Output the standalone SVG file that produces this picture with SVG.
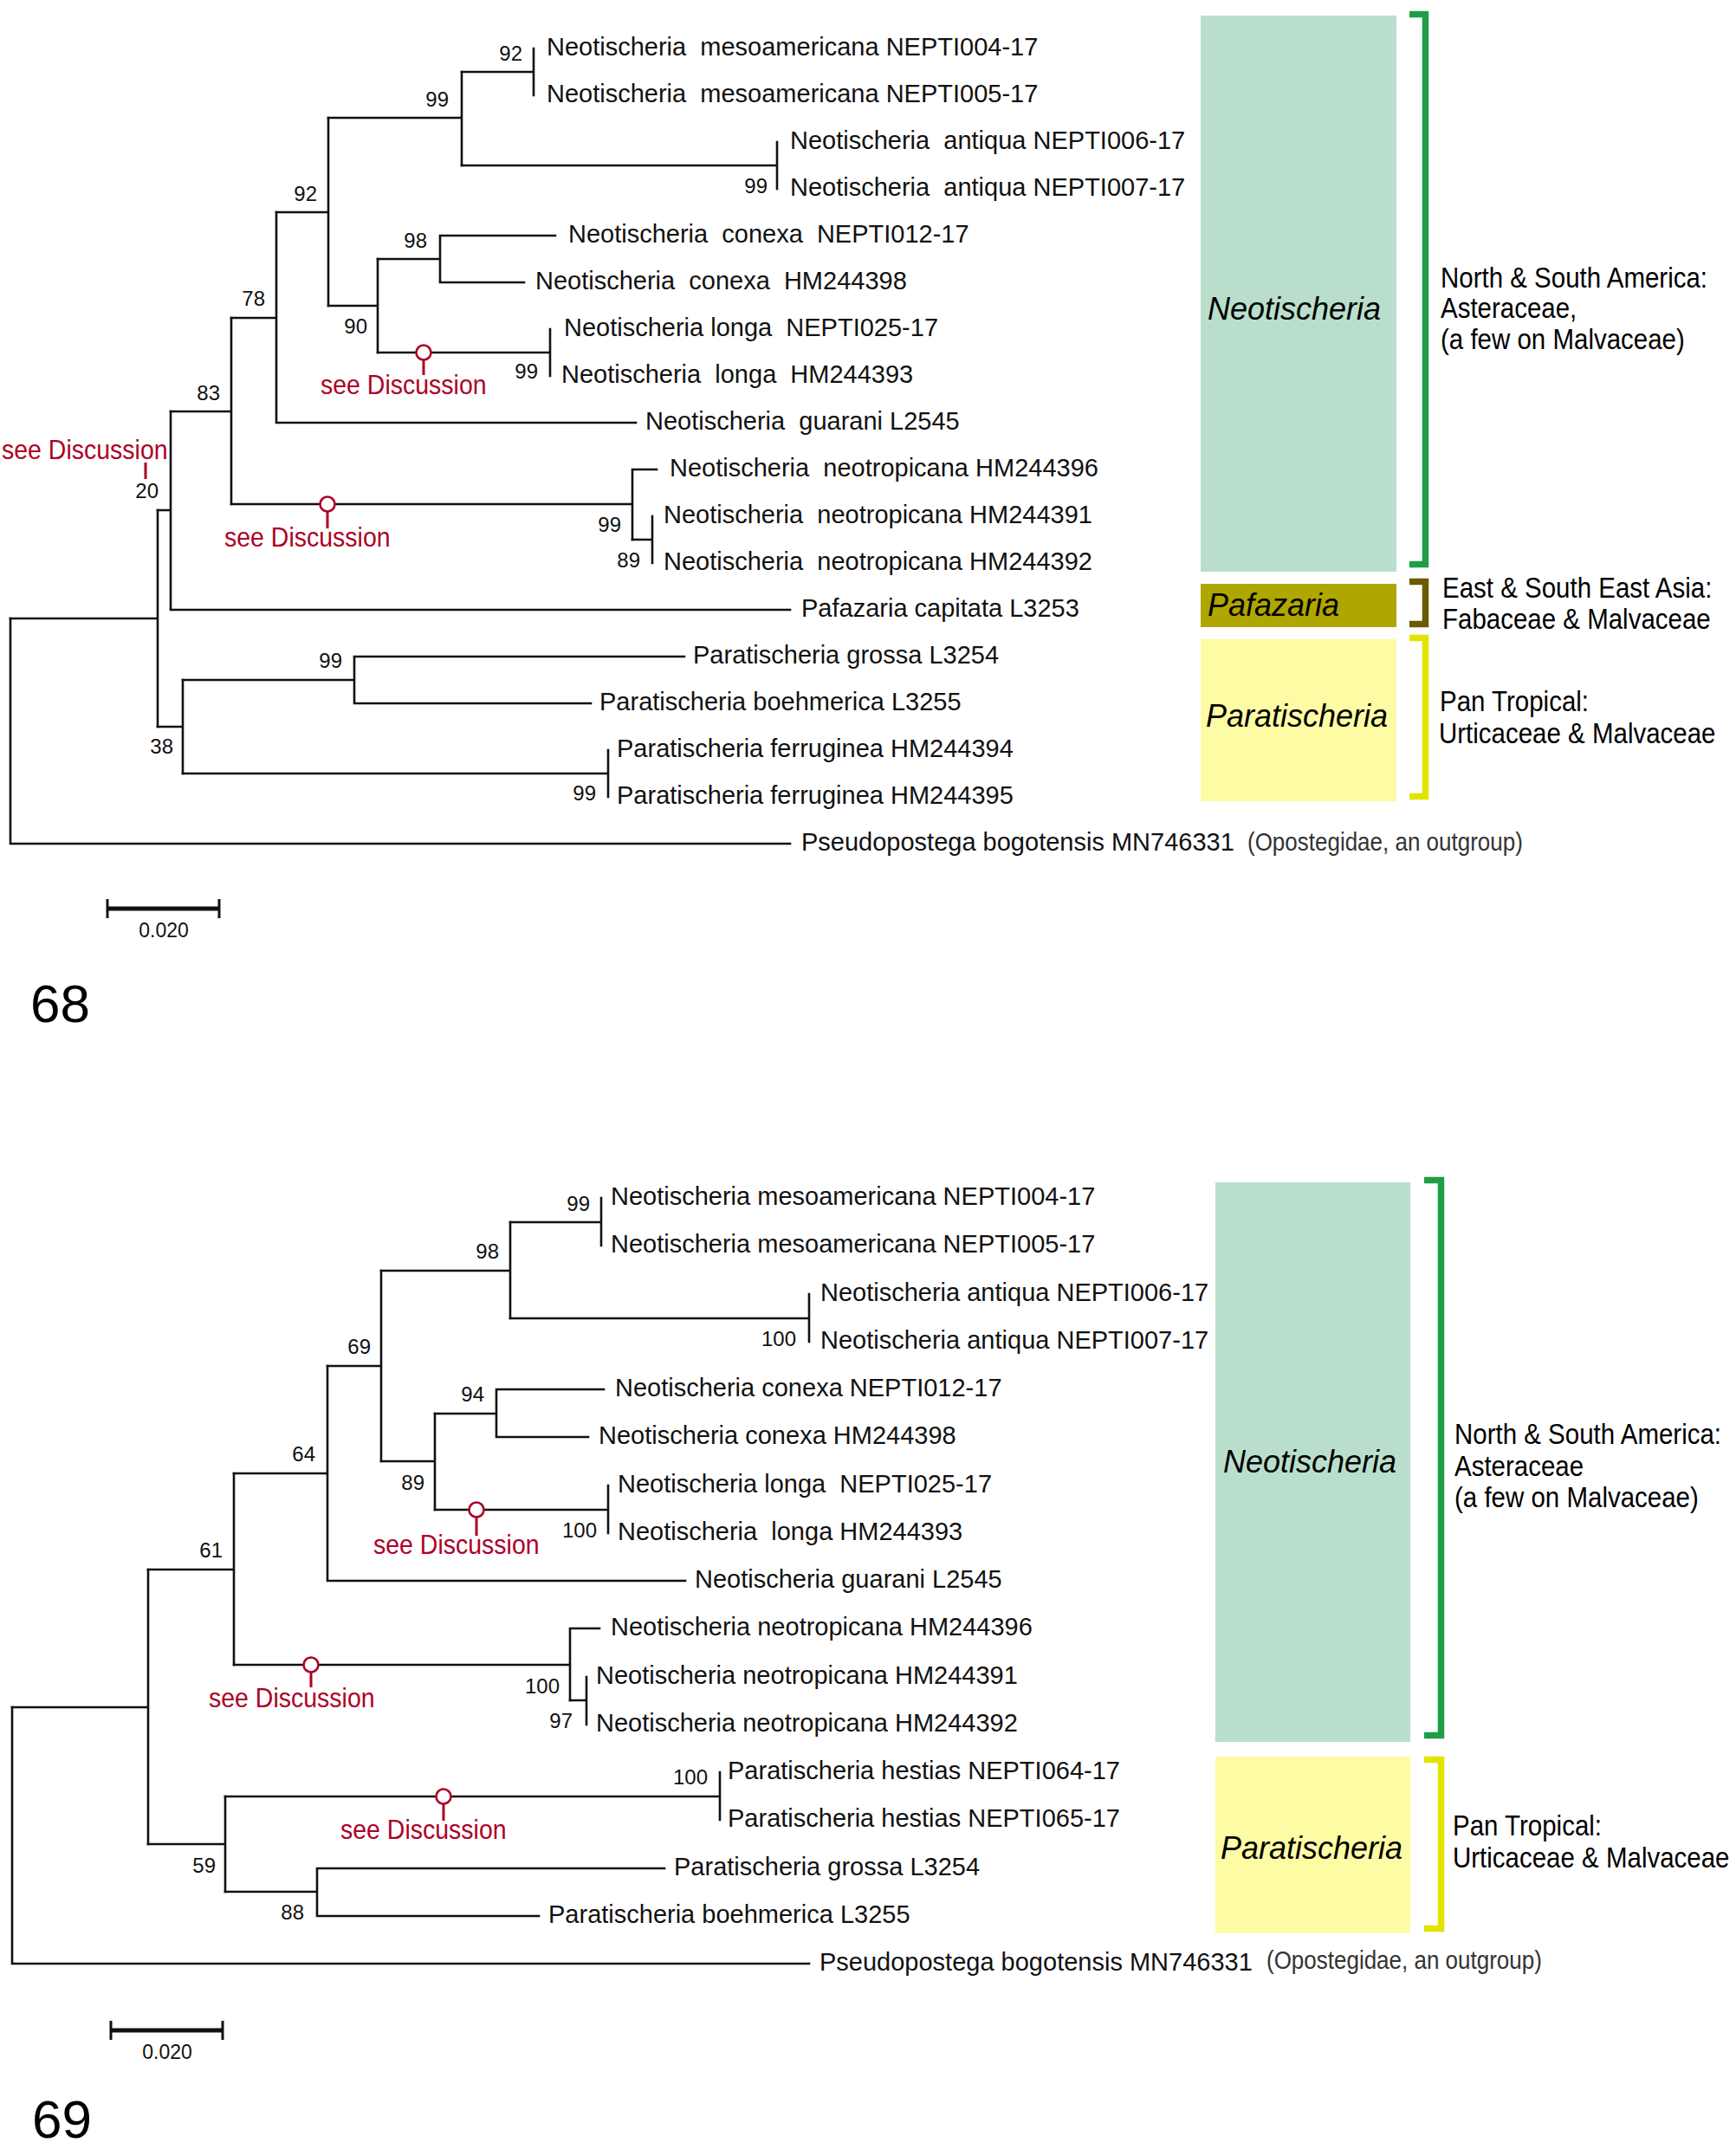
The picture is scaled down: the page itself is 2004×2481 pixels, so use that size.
<svg xmlns="http://www.w3.org/2000/svg" width="2004" height="2481" viewBox="0 0 2004 2481">
<style>
.br{stroke:#111;stroke-width:2.6;fill:none;stroke-linecap:square}
.tx{font-family:"Liberation Sans",Arial,sans-serif;font-size:29px;fill:#111;white-space:pre}
.bs{font-family:"Liberation Sans",Arial,sans-serif;font-size:24px;fill:#111;text-anchor:end}
.sd{font-family:"Liberation Sans",Arial,sans-serif;font-size:28.5px;fill:#ad0026}
.mk{fill:#fff;stroke:#ad0026;stroke-width:2.6}
.mks{stroke:#ad0026;stroke-width:3;fill:none}
.gl{font-family:"Liberation Sans",Arial,sans-serif;font-size:36px;font-style:italic;fill:#000}
.an{font-family:"Liberation Sans",Arial,sans-serif;font-size:29.5px;fill:#000}
.og{font-family:"Liberation Sans",Arial,sans-serif;font-size:26px;fill:#333}
.sc{font-family:"Liberation Sans",Arial,sans-serif;font-size:23px;fill:#111;text-anchor:middle}
.fn{font-family:"Liberation Sans",Arial,sans-serif;font-size:62px;fill:#000}
.bk{fill:none;stroke-width:7.5;stroke-linecap:butt;stroke-linejoin:miter}
</style>
<rect width="2004" height="2481" fill="#fff"/>

<!-- ================= FIGURE 68 ================= -->
<g id="fig68">
<g id="f68-connectors">
<path class="br" d="M616,56V110 M533,83H616"/>
<path class="br" d="M897,164V218 M533,191H897"/>
<path class="br" d="M533,83V191 M379,136H533"/>
<path class="br" d="M508,272V326 M436,299H508 M508,272H641 M508,326H605"/>
<path class="br" d="M635,380V434 M436,407H635"/>
<path class="br" d="M436,299V407 M379,353H436"/>
<path class="br" d="M379,136V353 M319,245H379"/>
<path class="br" d="M319,245V488 M267,367H319 M319,488H734"/>
<path class="br" d="M753,596V650 M730,623H753"/>
<path class="br" d="M730,542V623 M730,542H758 M267,582H730"/>
<path class="br" d="M267,367V582 M197,475H267"/>
<path class="br" d="M197,475V704 M182,589H197 M197,704H912"/>
<path class="br" d="M409,758V812 M211,785H409 M409,758H790 M409,812H682"/>
<path class="br" d="M702,866V920 M211,893H702"/>
<path class="br" d="M211,785V893 M182,839H211"/>
<path class="br" d="M182,589V839 M12,714H182"/>
<path class="br" d="M12,714V974 M12,974H912"/>
</g>
<g id="f68-taxa">
<text class="tx" x="631" y="64">Neotischeria  mesoamericana NEPTI004-17</text>
<text class="tx" x="631" y="118">Neotischeria  mesoamericana NEPTI005-17</text>
<text class="tx" x="912" y="172">Neotischeria  antiqua NEPTI006-17</text>
<text class="tx" x="912" y="226">Neotischeria  antiqua NEPTI007-17</text>
<text class="tx" x="656" y="280">Neotischeria  conexa  NEPTI012-17</text>
<text class="tx" x="618" y="334">Neotischeria  conexa  HM244398</text>
<text class="tx" x="651" y="388">Neotischeria longa  NEPTI025-17</text>
<text class="tx" x="648" y="442">Neotischeria  longa  HM244393</text>
<text class="tx" x="745" y="496">Neotischeria  guarani L2545</text>
<text class="tx" x="773" y="550">Neotischeria  neotropicana HM244396</text>
<text class="tx" x="766" y="604">Neotischeria  neotropicana HM244391</text>
<text class="tx" x="766" y="658">Neotischeria  neotropicana HM244392</text>
<text class="tx" x="925" y="712">Pafazaria capitata L3253</text>
<text class="tx" x="800" y="766">Paratischeria grossa L3254</text>
<text class="tx" x="692" y="820">Paratischeria boehmerica L3255</text>
<text class="tx" x="712" y="874">Paratischeria ferruginea HM244394</text>
<text class="tx" x="712" y="928">Paratischeria ferruginea HM244395</text>
<text class="tx" x="925" y="982">Pseudopostega bogotensis MN746331</text>
<text class="og" transform="translate(1440,982) scale(1,1.15)">(Opostegidae, an outgroup)</text>
</g>
<g id="f68-support">
<text class="bs" x="603" y="70">92</text>
<text class="bs" x="518" y="123">99</text>
<text class="bs" x="366" y="232">92</text>
<text class="bs" x="886" y="223">99</text>
<text class="bs" x="493" y="286">98</text>
<text class="bs" x="424" y="385">90</text>
<text class="bs" x="621" y="437">99</text>
<text class="bs" x="306" y="353">78</text>
<text class="bs" x="254" y="462">83</text>
<text class="bs" x="183" y="575">20</text>
<text class="bs" x="717" y="614">99</text>
<text class="bs" x="739" y="655">89</text>
<text class="bs" x="395" y="771">99</text>
<text class="bs" x="200" y="870">38</text>
<text class="bs" x="688" y="924">99</text>
</g>
<g id="f68-notes">
<path class="mks" d="M489,415V433"/>
<circle class="mk" cx="489" cy="407" r="8.5"/>
<text class="sd" transform="translate(370,455) scale(1,1.12)">see Discussion</text>
<path class="mks" d="M378,590V610"/>
<circle class="mk" cx="378" cy="582" r="8.5"/>
<text class="sd" transform="translate(259,631) scale(1,1.12)">see Discussion</text>
<path class="mks" d="M168,534V553"/>
<text class="sd" transform="translate(2,530) scale(1,1.12)">see Discussion</text>
</g>
<g id="f68-neotischeria">
<rect x="1386" y="18" width="226" height="642" fill="#b9dfcc"/>
<text class="gl" x="1394" y="369">Neotischeria</text>
<path class="bk" stroke="#1f9e46" d="M1627,16.5H1645.5V651.5H1627"/>
<text class="an" transform="translate(1663,332) scale(1,1.15)">North &amp; South America:</text>
<text class="an" transform="translate(1663,367) scale(1,1.15)">Asteraceae,</text>
<text class="an" transform="translate(1663,403) scale(1,1.15)">(a few on Malvaceae)</text>
</g>
<g id="f68-pafazaria">
<rect x="1386" y="674" width="226" height="50" fill="#b0a600"/>
<text class="gl" x="1394" y="711">Pafazaria</text>
<path class="bk" stroke="#6b5a00" d="M1627,671.5H1645.5V720.5H1627"/>
<text class="an" transform="translate(1665,690) scale(1,1.15)">East &amp; South East Asia:</text>
<text class="an" transform="translate(1665,726) scale(1,1.15)">Fabaceae &amp; Malvaceae</text>
</g>
<g id="f68-paratischeria">
<rect x="1386" y="738" width="226" height="187" fill="#fdfba3"/>
<text class="gl" x="1392" y="839">Paratischeria</text>
<path class="bk" stroke="#e3e300" d="M1627,736.5H1645.5V919.5H1627"/>
<text class="an" transform="translate(1662,821) scale(1,1.15)">Pan Tropical:</text>
<text class="an" transform="translate(1661,858) scale(1,1.15)">Urticaceae &amp; Malvaceae</text>
</g>
<g id="f68-scale">
<path stroke="#111" stroke-width="5" d="M124,1049H253"/>
<path stroke="#111" stroke-width="3" d="M124,1038V1060 M253,1038V1060"/>
<text class="sc" x="189" y="1082">0.020</text>
</g>
<text class="fn" x="35" y="1180">68</text>
</g>

<!-- ================= FIGURE 69 ================= -->
<g id="fig69">
<g id="f69-connectors">
<path class="br" d="M694,1383V1438 M589,1411H694"/>
<path class="br" d="M934,1494V1549 M589,1522H934"/>
<path class="br" d="M589,1411V1522 M440,1467H589"/>
<path class="br" d="M573,1604V1659 M502,1632H573 M573,1604H697 M573,1659H679"/>
<path class="br" d="M702,1715V1770 M502,1743H702"/>
<path class="br" d="M502,1632V1743 M440,1687H502"/>
<path class="br" d="M440,1467V1687 M378,1577H440"/>
<path class="br" d="M378,1577V1825 M270,1701H378 M378,1825H791"/>
<path class="br" d="M677,1936V1991 M658,1963H677"/>
<path class="br" d="M658,1880V1963 M658,1880H692 M270,1922H658"/>
<path class="br" d="M270,1701V1922 M171,1812H270"/>
<path class="br" d="M831,2046V2101 M260,2074H831"/>
<path class="br" d="M366,2157V2212 M260,2184H366 M366,2157H767 M366,2212H622"/>
<path class="br" d="M260,2074V2184 M171,2129H260"/>
<path class="br" d="M171,1812V2129 M14,1971H171"/>
<path class="br" d="M14,1971V2267 M14,2267H934"/>
</g>
<g id="f69-taxa">
<text class="tx" x="705" y="1391">Neotischeria mesoamericana NEPTI004-17</text>
<text class="tx" x="705" y="1446">Neotischeria mesoamericana NEPTI005-17</text>
<text class="tx" x="947" y="1502">Neotischeria antiqua NEPTI006-17</text>
<text class="tx" x="947" y="1557">Neotischeria antiqua NEPTI007-17</text>
<text class="tx" x="710" y="1612">Neotischeria conexa NEPTI012-17</text>
<text class="tx" x="691" y="1667">Neotischeria conexa HM244398</text>
<text class="tx" x="713" y="1723">Neotischeria longa  NEPTI025-17</text>
<text class="tx" x="713" y="1778">Neotischeria  longa HM244393</text>
<text class="tx" x="802" y="1833">Neotischeria guarani L2545</text>
<text class="tx" x="705" y="1888">Neotischeria neotropicana HM244396</text>
<text class="tx" x="688" y="1944">Neotischeria neotropicana HM244391</text>
<text class="tx" x="688" y="1999">Neotischeria neotropicana HM244392</text>
<text class="tx" x="840" y="2054">Paratischeria hestias NEPTI064-17</text>
<text class="tx" x="840" y="2109">Paratischeria hestias NEPTI065-17</text>
<text class="tx" x="778" y="2165">Paratischeria grossa L3254</text>
<text class="tx" x="633" y="2220">Paratischeria boehmerica L3255</text>
<text class="tx" x="946" y="2275">Pseudopostega bogotensis MN746331</text>
<text class="og" transform="translate(1462,2273) scale(1,1.15)">(Opostegidae, an outgroup)</text>
</g>
<g id="f69-support">
<text class="bs" x="681" y="1398">99</text>
<text class="bs" x="576" y="1453">98</text>
<text class="bs" x="919" y="1554">100</text>
<text class="bs" x="428" y="1563">69</text>
<text class="bs" x="559" y="1618">94</text>
<text class="bs" x="364" y="1687">64</text>
<text class="bs" x="490" y="1720">89</text>
<text class="bs" x="689" y="1775">100</text>
<text class="bs" x="257" y="1798">61</text>
<text class="bs" x="646" y="1955">100</text>
<text class="bs" x="661" y="1995">97</text>
<text class="bs" x="817" y="2060">100</text>
<text class="bs" x="249" y="2162">59</text>
<text class="bs" x="351" y="2216">88</text>
</g>
<g id="f69-notes">
<path class="mks" d="M550,1751V1773"/>
<circle class="mk" cx="550" cy="1743" r="8.5"/>
<text class="sd" transform="translate(431,1794) scale(1,1.12)">see Discussion</text>
<path class="mks" d="M359,1930V1948"/>
<circle class="mk" cx="359" cy="1922" r="8.5"/>
<text class="sd" transform="translate(241,1971) scale(1,1.12)">see Discussion</text>
<path class="mks" d="M512,2082V2102"/>
<circle class="mk" cx="512" cy="2074" r="8.5"/>
<text class="sd" transform="translate(393,2123) scale(1,1.12)">see Discussion</text>
</g>
<g id="f69-neotischeria">
<rect x="1403" y="1365" width="225" height="646" fill="#b9dfcc"/>
<text class="gl" x="1412" y="1700">Neotischeria</text>
<path class="bk" stroke="#1f9e46" d="M1644,1362.5H1663.5V2003.5H1644"/>
<text class="an" transform="translate(1679,1667) scale(1,1.15)">North &amp; South America:</text>
<text class="an" transform="translate(1679,1704) scale(1,1.15)">Asteraceae</text>
<text class="an" transform="translate(1679,1740) scale(1,1.15)">(a few on Malvaceae)</text>
</g>
<g id="f69-paratischeria">
<rect x="1403" y="2028" width="225" height="204" fill="#fdfba3"/>
<text class="gl" x="1409" y="2146">Paratischeria</text>
<path class="bk" stroke="#e3e300" d="M1644,2031.5H1663.5V2226.5H1644"/>
<text class="an" transform="translate(1677,2119) scale(1,1.15)">Pan Tropical:</text>
<text class="an" transform="translate(1677,2156) scale(1,1.15)">Urticaceae &amp; Malvaceae</text>
</g>
<g id="f69-scale">
<path stroke="#111" stroke-width="5" d="M128,2344H257"/>
<path stroke="#111" stroke-width="3" d="M128,2333V2355 M257,2333V2355"/>
<text class="sc" x="193" y="2377">0.020</text>
</g>
<text class="fn" x="37" y="2468">69</text>
</g>
</svg>
